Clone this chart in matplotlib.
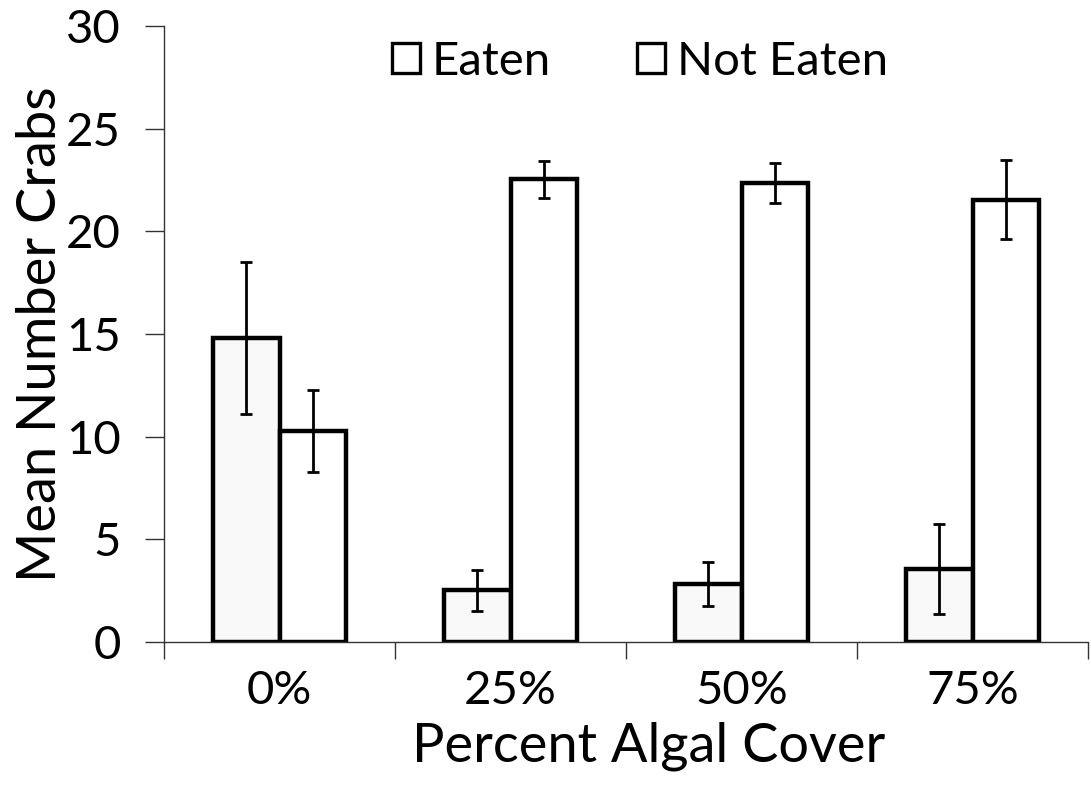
import matplotlib
matplotlib.use("Agg")
import matplotlib.pyplot as plt
import numpy as np

categories = ["0%", "25%", "50%", "75%"]
eaten = [14.8, 2.53, 2.84, 3.54]
eaten_err = [3.7, 1.0, 1.08, 2.2]
not_eaten = [10.28, 22.54, 22.37, 21.55]
not_eaten_err = [2.0, 0.9, 0.97, 1.9]
series_names = ["Eaten", "Not Eaten"]
yticks = [0, 5, 10, 15, 20, 25, 30]

plt.rcParams['font.family'] = ['Lato', 'DejaVu Sans']

fig = plt.figure(figsize=(10.91, 7.87), dpi=100)
ax = fig.add_axes([164/1091, (787-642)/787, (1088-164)/1091, (642-26)/787])

x = np.arange(len(categories))
w = 0.288
ax.bar(x - w/2, eaten, w, color='#f9f9f9', edgecolor='black', linewidth=3.2,
       label=series_names[0], zorder=2)
ax.bar(x + w/2, not_eaten, w, color='white', edgecolor='black', linewidth=3.2,
       label=series_names[1], zorder=2)
ax.errorbar(x - w/2, eaten, yerr=eaten_err, fmt='none', ecolor='black',
            elinewidth=2.0, capsize=4.6, capthick=2.0, zorder=3)
ax.errorbar(x + w/2, not_eaten, yerr=not_eaten_err, fmt='none', ecolor='black',
            elinewidth=2.0, capsize=4.6, capthick=2.0, zorder=3)

ax.set_xlim(-0.5, len(categories) - 0.5)
ax.set_ylim(0, 30)
ax.set_yticks(yticks)
ax.set_yticklabels([str(t) for t in yticks], fontsize=34)
ax.set_xticks(x)
ax.set_xticklabels(categories, fontsize=34)
ax.tick_params(axis='x', which='major', length=0, pad=20)
ax.set_xticks(np.arange(-0.5, len(categories)), minor=True)
ax.tick_params(axis='x', which='minor', length=12, width=1, color='#333333', direction='out')
ax.tick_params(axis='y', length=14, width=1, color='#333333', direction='out', pad=17)

for s in ['top', 'right']:
    ax.spines[s].set_visible(False)
for s in ['left', 'bottom']:
    ax.spines[s].set_linewidth(1)
    ax.spines[s].set_color('#333333')

ax.set_ylabel("Mean Number Crabs", fontsize=39, labelpad=0.5)
ax.set_xlabel("Percent Algal Cover", fontsize=39, labelpad=7)
ax.xaxis.label.set_x(0.525)

leg = ax.legend(loc='upper center', bbox_to_anchor=(0.515, 1.045), ncol=2, frameon=False,
                fontsize=34, handlelength=0.6, handleheight=0.6, handletextpad=0.25,
                columnspacing=1.82)
for h in leg.legend_handles:
    h.set_facecolor('white')
    h.set_linewidth(2.4)

fig.savefig("out.png", dpi=100)
